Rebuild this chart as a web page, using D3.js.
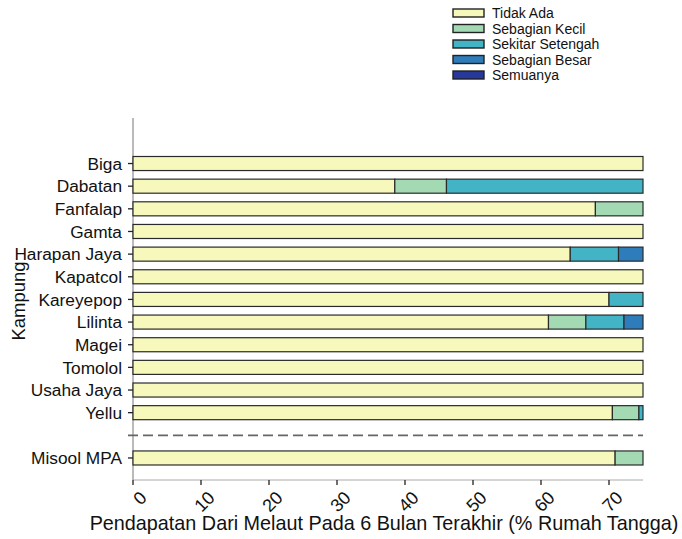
<!DOCTYPE html>
<html><head><meta charset="utf-8">
<script src="https://cdn.jsdelivr.net/npm/d3@7/dist/d3.min.js"></script>
<style>body{margin:0;background:#fff}svg{display:block}text{font-family:"Liberation Sans",Arial,sans-serif;fill:#111}</style>
</head><body><svg id="c" width="682" height="539"></svg>
<script>
const categories = ["Biga","Dabatan","Fanfalap","Gamta","Harapan Jaya","Kapatcol","Kareyepop","Lilinta","Magei","Tomolol","Usaha Jaya","Yellu","","Misool MPA"];
const seriesNames = ["Tidak Ada","Sebagian Kecil","Sekitar Setengah","Sebagian Besar","Semuanya"];
const tidakAda        = [75, 38.5, 68.0, 75, 64.3, 75, 70.0, 61.1, 75, 75, 75, 70.5, 0, 70.9];
const sebagianKecil   = [0,  7.6,  7.0,  0,  0,    0,  0,    5.5,  0,  0,  0,  3.9,  0, 4.1];
const sekitarSetengah = [0,  28.9, 0,    0,  7.1,  0,  5.0,  5.6,  0,  0,  0,  0.6,  0, 0];
const sebagianBesar   = [0,  0,    0,    0,  3.6,  0,  0,    2.8,  0,  0,  0,  0,    0, 0];
const semuanya        = [0,  0,    0,    0,  0,    0,  0,    0,    0,  0,  0,  0,    0, 0];
const xTicks = [0,10,20,30,40,50,60,70];
const colors = ["#f6f9bb","#a3d9b3","#43b4c6","#2f7cbb","#26389a"];

const seriesValues = [tidakAda, sebagianKecil, sekitarSetengah, sebagianBesar, semuanya];
const rows = categories.map((c,i)=>{const o={cat:c}; seriesNames.forEach((s,j)=>o[s]=seriesValues[j][i]); return o;});
const stack = d3.stack().keys(seriesNames)(rows);

const svg = d3.select("#c");
const x = d3.scaleLinear().domain([0,75]).range([133,643]);
const y = d3.scaleBand().domain(categories).range([152.2,469.3]).paddingInner(0.38).paddingOuter(0.19);

// axes lines
svg.append("line").attr("x1",133).attr("x2",133).attr("y1",118).attr("y2",480).attr("stroke","#777").attr("stroke-width",1);
svg.append("line").attr("x1",133).attr("x2",643).attr("y1",480).attr("y2",480).attr("stroke","#aaa").attr("stroke-width",1);

// y ticks and labels
const labelled = categories.filter(c=>c!=="");
svg.selectAll(".ytick").data(labelled).join("line")
  .attr("x1",128).attr("x2",133)
  .attr("y1",d=>y(d)+y.bandwidth()/2).attr("y2",d=>y(d)+y.bandwidth()/2)
  .attr("stroke","#222").attr("stroke-width",1.3);
svg.selectAll(".ylab").data(labelled).join("text")
  .attr("x",122).attr("y",d=>y(d)+y.bandwidth()/2).attr("dy","0.36em")
  .attr("text-anchor","end").attr("font-size",17.3).text(d=>d);

// dashed separator
svg.append("line").attr("x1",128).attr("x2",643)
  .attr("y1",y("")+y.bandwidth()/2).attr("y2",y("")+y.bandwidth()/2)
  .attr("stroke","#666").attr("stroke-width",1.6).attr("stroke-dasharray","10,5");

// bars
svg.append("g").selectAll("g").data(stack).join("g")
  .attr("fill",(d,i)=>colors[i])
  .selectAll("rect").data(d=>d.filter(s=>s[1]-s[0]>0)).join("rect")
  .attr("x",d=>x(d[0])).attr("width",d=>x(d[1])-x(d[0]))
  .attr("y",d=>y(d.data.cat)).attr("height",y.bandwidth())
  .attr("stroke","#2a2a2a").attr("stroke-width",1.2);

// x ticks
svg.selectAll(".xt").data(xTicks).join("line")
  .attr("x1",d=>x(d)).attr("x2",d=>x(d)).attr("y1",480).attr("y2",485)
  .attr("stroke","#222").attr("stroke-width",1.3);
svg.selectAll(".xl").data(xTicks).join("text")
  .attr("transform",d=>`translate(${x(d)+6},${490}) rotate(-45)`)
  .attr("text-anchor","end").attr("dy","0.7em").attr("font-size",18).text(d=>d);

// titles
svg.append("text").attr("x",384).attr("y",530).attr("text-anchor","middle").attr("font-size",19.8)
  .text("Pendapatan Dari Melaut Pada 6 Bulan Terakhir (% Rumah Tangga)");
svg.append("text").attr("transform","translate(25,301) rotate(-90)").attr("text-anchor","middle").attr("font-size",18.5).text("Kampung");

// legend
const lg = svg.append("g");
seriesNames.forEach((s,i)=>{
  const yy = 9 + i*15.5;
  lg.append("rect").attr("x",453).attr("y",yy).attr("width",31).attr("height",8)
    .attr("fill",colors[i]).attr("stroke","#222").attr("stroke-width",1.4);
  lg.append("text").attr("x",492).attr("y",yy+4).attr("dy","0.36em").attr("font-size",14).text(s);
});
</script></body></html>
